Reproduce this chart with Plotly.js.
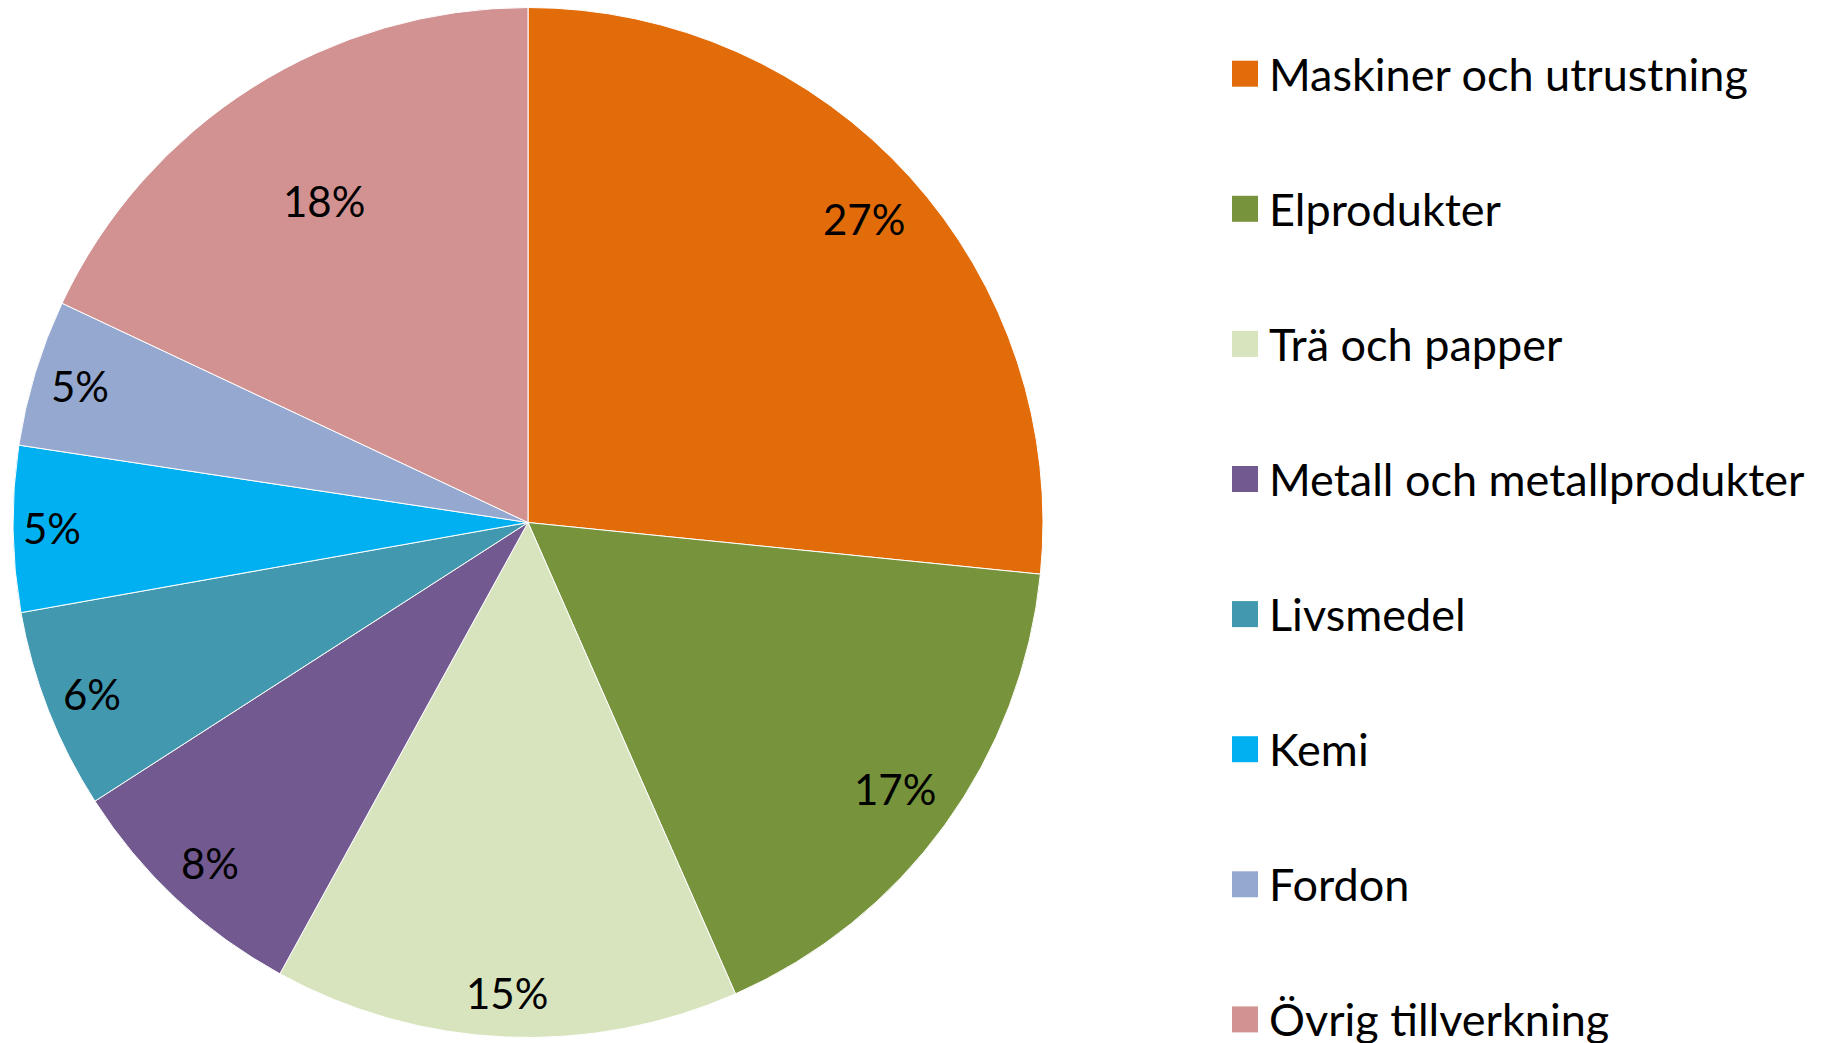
<!DOCTYPE html>
<html>
<head>
<meta charset="utf-8">
<script src="https://cdn.plot.ly/plotly-3.0.1.min.js"></script>
<style>html,body{margin:0;padding:0;background:#fff;}#chart{width:1834px;height:1043px;}</style>
</head>
<body>
<div id="chart"></div>
<script>
const labels = ['Maskiner och utrustning','Elprodukter','Trä och papper','Metall och metallprodukter','Livsmedel','Kemi','Fordon','Övrig tillverkning'];
const values = [26.6, 16.8, 14.6, 7.9, 6.3, 5.2, 4.6, 18.0];
const colors = ['#E36C0A','#77933C','#D7E4BD','#72598F','#4198AF','#00B0F0','#95A8D0','#D39292'];

// layout settings (not data): pixel geometry and label placement
const W = 1834, H = 1043;
const FONT = 'Lato, "Open Sans", sans-serif';
const CX = 528, CY = 522.5, R = 515;
const labelRadiusFrac = [0.88, 0.88, 0.915, 0.905, 0.91, 0.925, 0.91, 0.74];

const trace = {
  type: 'pie',
  labels: labels,
  values: values,
  sort: false,
  direction: 'clockwise',
  rotation: 0,
  marker: {colors: colors, line: {color: '#ffffff', width: 1}},
  textinfo: 'none',
  showlegend: false,
  hoverinfo: 'label+percent',
  domain: {x: [(CX - R) / W, (CX + R) / W], y: [1 - (CY + R) / H, 1 - (CY - R) / H]}
};

const annotations = [];
const shapes = [];

// percentage labels derived from the values
const total = values.reduce((a, b) => a + b, 0);
let cum = 0;
values.forEach((v, i) => {
  const mid = (cum + v / 2) / total * 2 * Math.PI;
  cum += v;
  const r = labelRadiusFrac[i] * R;
  const px = CX + r * Math.sin(mid);
  const py = CY - r * Math.cos(mid);
  annotations.push({
    xref: 'paper', yref: 'paper', x: px / W, y: 1 - py / H,
    xanchor: 'center', yanchor: 'middle', showarrow: false,
    text: Math.round(v / total * 100) + '%',
    font: {family: FONT, size: 42, color: '#000000'}
  });
});

// legend built from the label and colour arrays
const rowStart = 73.7, rowGap = 135.1;
labels.forEach((lab, i) => {
  const yc = rowStart + i * rowGap;
  annotations.push({
    xref: 'paper', yref: 'paper', x: 1267 / W, y: 1 - yc / H,
    xanchor: 'left', yanchor: 'middle', showarrow: false,
    text: lab, font: {family: FONT, size: 45, color: '#000000'}
  });
  shapes.push({
    type: 'rect', xref: 'paper', yref: 'paper',
    x0: 1232 / W, x1: 1258 / W, y0: 1 - (yc + 13) / H, y1: 1 - (yc - 13) / H,
    fillcolor: colors[i], line: {width: 0}
  });
});

const layout = {
  width: W, height: H,
  margin: {l: 0, r: 0, t: 0, b: 0},
  paper_bgcolor: '#ffffff',
  showlegend: false,
  annotations: annotations,
  shapes: shapes,
  font: {family: FONT}
};

Plotly.newPlot('chart', [trace], layout, {displayModeBar: false, staticPlot: true});
</script>
</body>
</html>
